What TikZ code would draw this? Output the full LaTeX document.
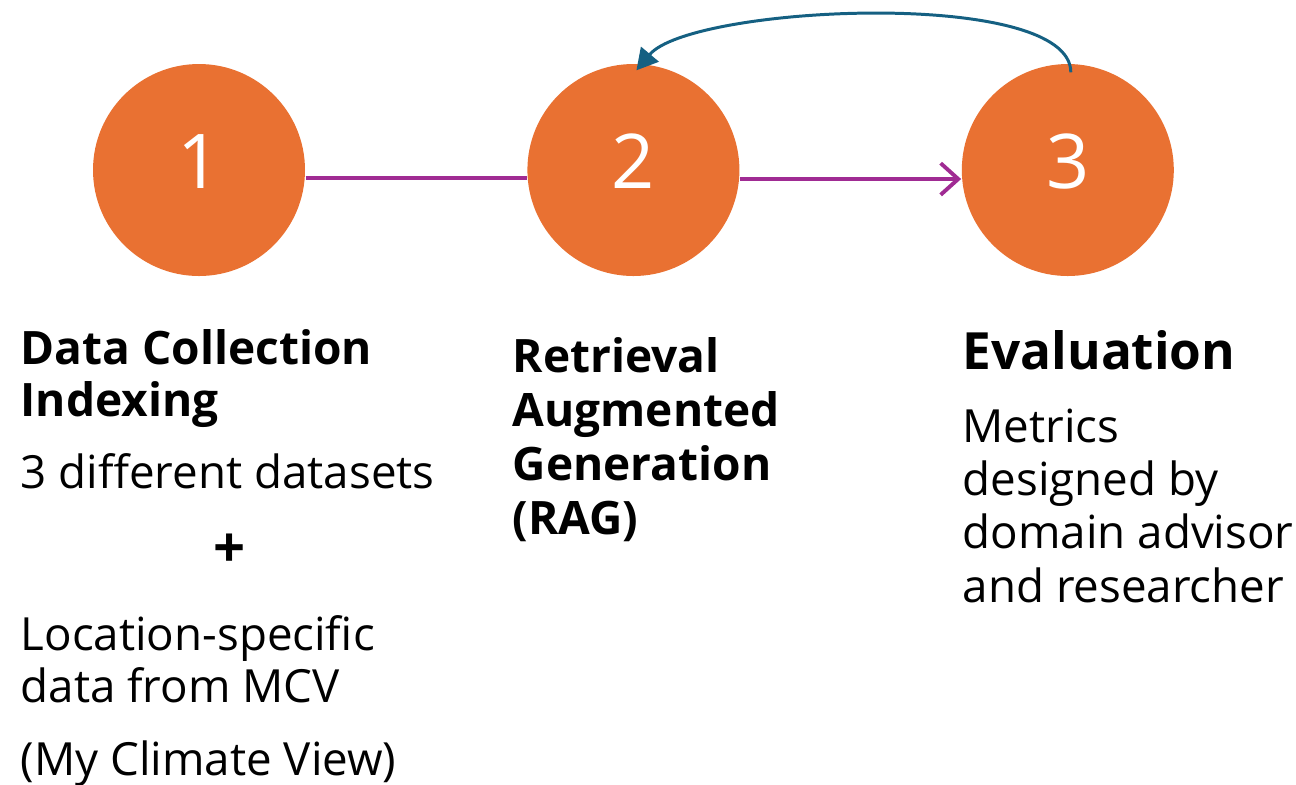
\documentclass[tikz,border=0pt]{standalone}
\usepackage{fontspec}
\setmainfont{Open Sans}
\usetikzlibrary{arrows.meta,positioning,calc}
\definecolor{stepOrange}{HTML}{E97132}
\definecolor{linkPurple}{HTML}{A02B93}
\definecolor{loopBlue}{HTML}{156082}

\begin{document}
\begin{tikzpicture}[node distance=2.21cm,x=1cm,y=-1cm]
	\tikzstyle{stage}=[circle,fill=stepOrange,draw=none,minimum size=2.12cm,inner sep=0pt,text=white,text depth=5pt,font=\fontsize{21.5}{21.5}\selectfont]
	\tikzstyle{head}=[anchor=base west,inner sep=0pt,align=left,font=\fontsize{13.1}{15.1}\selectfont\bfseries]
	\tikzstyle{body}=[anchor=base west,inner sep=0pt,align=left,font=\fontsize{13}{15}\selectfont]
	\useasboundingbox (0,0) rectangle (12.96,7.84);

	\node[stage] at (1.99,1.70)  (one)                {1};
	\node[stage]                 (two)   [right=of one] {2};
	\node[stage]                 (three) [right=of two] {3};

	\node[head,font=\fontsize{13.1}{14.7}\selectfont\bfseries] at (0.20,4.16) (collect) {Data Collection\\Indexing};
	\node[body] at (0.20,4.88) (sets)    {3 different datasets};
	\node[font=\fontsize{16}{16}\selectfont\bfseries] at (2.30,5.51) (plus) {+};
	\node[body,font=\fontsize{13}{14.7}\selectfont] at (0.20,7.02) (mcv) {Location-specific\\data from MCV};
	\node[body] at (0.20,7.75) (mcvname) {(My Climate View)};

	\node[head,font=\fontsize{13.1}{15.3}\selectfont\bfseries] at (5.12,5.34) (rag) {Retrieval\\Augmented\\Generation\\(RAG)};

	\node[head,font=\fontsize{14.6}{14.6}\selectfont\bfseries] at (9.62,3.69) (eval) {Evaluation};
	\node[body,font=\fontsize{13}{15.1}\selectfont] at (9.62,6.02) (metrics) {Metrics\\designed by\\domain advisor\\and researcher};

	\path[linkPurple,line width=1.1pt]
	(one.east |- 0,1.78) edge (two.west |- 0,1.78)
	(two.east |- 0,1.79) edge [-{Straight Barb[length=5pt,width=9pt]}] (three.west |- 0,1.79);
	\draw[loopBlue,line width=0.85pt,-{Triangle[length=6pt,width=6.5pt]}]
	($(three.north)+(0.03,0.09)$) to[out=90,in=50,looseness=0.5] ($(two.north)+(0.03,0.07)$);
\end{tikzpicture}
\end{document}
